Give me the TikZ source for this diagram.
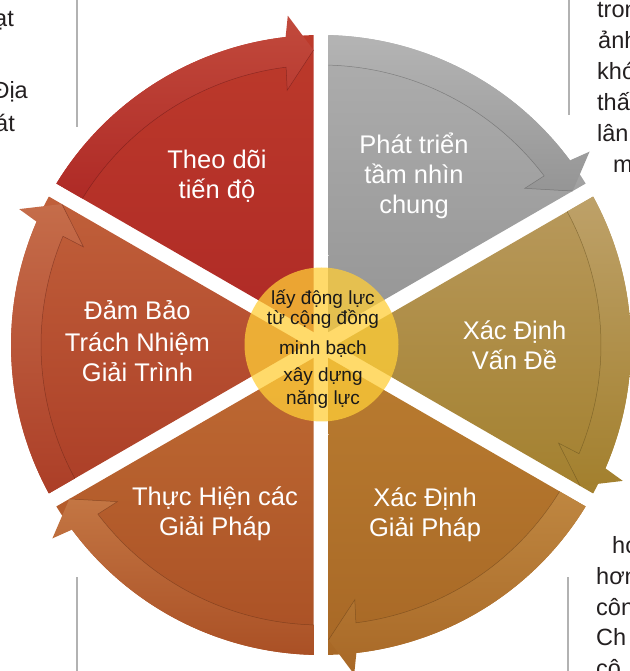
\documentclass[tikz,border=0pt]{standalone}
\usepackage{fontspec}
\setmainfont{Liberation Sans}
\usetikzlibrary{calc}
\definecolor{c1top}{HTML}{BC3A2B}\definecolor{c1bot}{HTML}{AF2A26}
\definecolor{c2top}{HTML}{AEAEAE}\definecolor{c2bot}{HTML}{959595}
\definecolor{c3top}{HTML}{B8995C}\definecolor{c3bot}{HTML}{A3802E}
\definecolor{c4top}{HTML}{B97C30}\definecolor{c4bot}{HTML}{A86826}
\definecolor{c5top}{HTML}{BE6A33}\definecolor{c5bot}{HTML}{AA5025}
\definecolor{c6top}{HTML}{C0603A}\definecolor{c6bot}{HTML}{AC3E27}
\definecolor{hub}{HTML}{FFCE38}
\definecolor{pagetext}{HTML}{231F20}
\newcommand\cycseg[3]{%
 \pgfmathsetmacro\sgA{#1}%
 \pgfmathsetmacro\sgB{#1+60}%
 \pgfmathsetmacro\sgM{#1+30}%
 \pgfmathsetmacro\sgWa{\sgA+1.386}%
 \pgfmathsetmacro\sgWb{\sgB-1.386}%
 \pgfmathsetmacro\sgBi{\sgB-1.535}%
 \pgfmathsetmacro\sgTp{\sgA+1.457}%
 \pgfmathsetmacro\sgOb{\sgTp+4.3}%
 \pgfmathsetmacro\sgOn{\sgTp+5.1}%
 \pgfmathsetmacro\sgIn{\sgTp+5.7}%
 \pgfmathsetmacro\sgIb{\sgTp+6.1}%
 \path[top color=#2, bottom color=#3] (\sgM:15) -- (\sgWa:310) arc[start angle=\sgWa, end angle=\sgWb, radius=310] -- cycle;
 \path[top color=#2!92!white, bottom color=#3] (\sgWb:310) arc[start angle=\sgWb, end angle=\sgOn, radius=310] -- (\sgOb:331) -- (\sgTp:295) -- (\sgIb:257) -- (\sgIn:280) arc[start angle=\sgIn, end angle=\sgBi, radius=280] -- cycle;
 \draw[#3!60!black, line width=0.5pt, opacity=0.55] (\sgBi:280) arc[start angle=\sgBi, end angle=\sgIn, radius=280] -- (\sgIb:257) -- (\sgTp:295);
}
\tikzset{
 lbl/.style={text=white, font=\fontsize{25.5}{31}\selectfont, anchor=base, inner sep=0pt},
 ctr/.style={text=black!90, font=\fontsize{19}{23}\selectfont, anchor=base, inner sep=0pt},
 pg/.style={text=pagetext, font=\fontsize{23.5}{31}\selectfont, inner sep=0pt},
 rulel/.style={draw=black!30, line width=1.2pt},
}
\begin{document}
\begin{tikzpicture}[x=1pt,y=1pt]
\useasboundingbox (-321,-326) rectangle (308,345);
% segments (angle of clockwise end, colours)
\cycseg{90}{c1top}{c1bot}
\cycseg{30}{c2top}{c2bot}
\cycseg{-30}{c3top}{c3bot}
\cycseg{-90}{c4top}{c4bot}
\cycseg{210}{c5top}{c5bot}
\cycseg{150}{c6top}{c6bot}
% hub
\fill[hub, opacity=0.75] (0.5,0.5) circle[radius=77];
% labels
\node[lbl] (a1) at (-104,176) {Theo dõi};
\node[lbl] (a2) at (-104,146) {tiến độ};
\node[lbl] (b1) at (93,191) {Phát triển};
\node[lbl] (b2) at (93,161) {tầm nhìn};
\node[lbl] (b3) at (93,131) {chung};
\node[lbl] (c1) at (193.5,5) {Xác Định};
\node[lbl] (c2) at (193.5,-24.5) {Vấn Đề};
\node[lbl] (d1) at (104,-161) {Xác Định};
\node[lbl] (d2) at (104,-191) {Giải Pháp};
\node[lbl] (e1) at (-106,-160) {Thực Hiện các};
\node[lbl] (e2) at (-106,-190) {Giải Pháp};
\node[lbl] (f1) at (-183.5,25) {Đảm Bảo};
\node[lbl] (f2) at (-183.5,-6.5) {Trách Nhiệm};
\node[lbl] (f3) at (-183.5,-37) {Giải Trình};
% hub text
\node[ctr] (h1) at (2,40) {lấy động lực};
\node[ctr] (h2) at (2,20) {từ cộng đồng};
\node[ctr] (h3) at (2,-10) {minh bạch};
\node[ctr] (h4) at (2,-37) {xây dựng};
\node[ctr] (h5) at (2,-60) {năng lực};
% page fragments (cut by the page edge, as in the reference)
\node[pg, anchor=base east] (l1) at (-307,318) {ạt};
\node[pg, anchor=base east] (l2) at (-293,246) {Địa};
\node[pg, anchor=base east] (l3) at (-306,213) {át};
\node[pg, anchor=base west] (r1) at (276,327) {tron};
\node[pg, anchor=base west] (r2) at (277,296) {ảnh};
\node[pg, anchor=base west] (r3) at (276,265) {khó};
\node[pg, anchor=base west] (r4) at (276,234) {thấ};
\node[pg, anchor=base west] (r5) at (276,203) {lân};
\node[pg, anchor=base west] (r6) at (292,172) {m};
\node[pg, anchor=base west] (s1) at (291,-208) {hơ};
\node[pg, anchor=base west] (s2) at (275,-239) {hơn};
\node[pg, anchor=base west] (s3) at (275,-270) {côn};
\node[pg, anchor=base west] (s4) at (275,-300) {Ch};
\node[pg, anchor=base west] (s5) at (275,-331) {cô};
% column rules
\coordinate (ra1) at (-244,345); \coordinate (ra2) at (-244,218);
\coordinate (rb1) at (248,345); \coordinate (rb2) at (248,230);
\coordinate (rc1) at (247,-232); \coordinate (rc2) at (247,-326);
\coordinate (rd1) at (-244,-232); \coordinate (rd2) at (-244,-326);
\draw[rulel] (ra1) -- (ra2);
\draw[rulel] (rb1) -- (rb2);
\draw[rulel] (rc1) -- (rc2);
\draw[rulel] (rd1) -- (rd2);
\end{tikzpicture}
\end{document}
